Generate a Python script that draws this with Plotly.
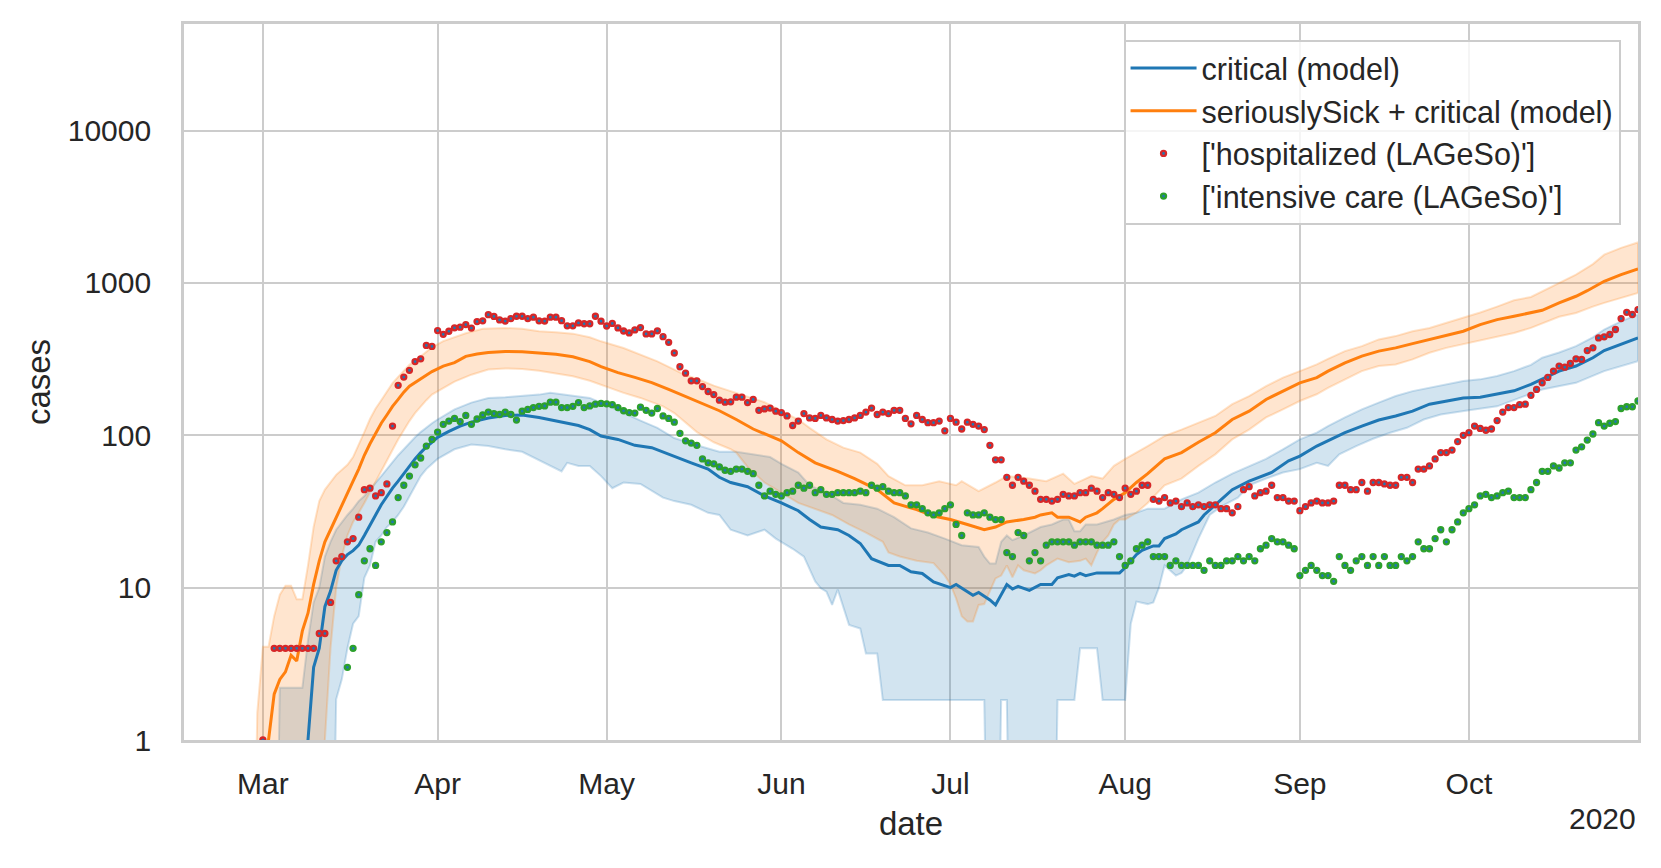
import pandas as pd
import plotly.graph_objects as go

# LAGeSo data, one value per day (None = no point)
hosp_mar = [1, None, 4, 4, 4, 4, 4, 4, 4, 4, 5, 5, 8, 15, 16, 20, 21, 29,
            44, 45, 40, 42, 48, 115, 213, 241, 267, 305, 318, 389, 383]
hosp_apr = [487, 460, 482, 508, 513, 533, 506, 558, 564, 619, 603, 572, 562, 584, 605,
            605, 584, 596, 564, 562, 596, 596, 566, 523, 523, 547, 540, 540, 605, 561]
hosp_may = [522, 543, 507, 484, 470, 492, 510, 463, 463, 485, 444, 408, 347, 282, 256, 228,
            228, 209, 194, 185, 170, 165, 166, 178, 178, 164, 172, 146, 149, 151, 144]
hosp_jun = [141, 134, 116, 124, 139, 130, 129, 135, 130, 127, 124, 125, 127, 130, 135,
            142, 151, 137, 142, 139, 146, 146, 129, 119, 135, 127, 121, 121, 124, 107]
hosp_jul = [129, 122, 110, 122, 118, 115, 109, 86, 69, 69, 53, 47, 53, 50, 47, 43,
            38, 38, 37, 38, 41, 40, 40, 42, 42, 45, 43, 39, 42, 41, 39]
hosp_aug = [45, 41, 43, 47, 47, 38, 37, 39, 36, 37, 34, 36, 34, 35, 34, 35,
            35, 33, 33, 31, 34, 44, 46, 40, 42, 43, 47, 39, 39, 37, 37]
hosp_sep = [32, 34, 36, 37, 36, 36, 37, 47, 47, 44, 44, 49, 43, 49, 49,
            48, 47, 47, 53, 53, 49, 60, 60, 63, 70, 77, 77, 80, 91, 100]
hosp_oct = [104, 115, 111, 108, 110, 125, 142, 152, 152, 159, 160, 183, 200, 221, 240, 264,
            285, 280, 296, 318, 315, 360, 375, 436, 443, 459, 495, 584, 642, 621, 669]

icu_mar = [3, 4, 9, 15, 18, 14, 20, 23, 27, 39, 47, 54, 64, 71, 85, 94]  # from Mar 16
icu_apr = [105, 118, 124, 129, 123, 135, 118, 128, 136, 142, 139, 137, 142, 137, 126,
           144, 148, 152, 155, 156, 165, 165, 152, 152, 155, 164, 152, 156, 160, 162]
icu_may = [161, 159, 152, 145, 141, 140, 153, 146, 140, 150, 134, 129, 122, 103, 92, 89,
           86, 70, 66, 65, 62, 59, 58, 60, 60, 58, 56, 47, 40, 43, 41]
icu_jun = [40, 42, 43, 47, 45, 47, 42, 44, 41, 41, 42, 42, 42, 42, 43,
           42, 47, 45, 46, 43, 42, 42, 40, 35, 35, 33, 31, 30, 31, 33]
icu_jul = [35, 26, 22, 31, 30, 30, 31, 29, 28, 28, 17, 16, 23, 22, 15, 17,
           15, 19, 20, 20, 20, 20, 19, 20, 20, 20, 19, 19, 19, 20, 16]
icu_aug = [14, 15, 18, 19, 20, 16, 16, 16, 14, 15, 14, 14, 14, 14, 13, 15,
           14, 14, 15, 15, 16, 15, 16, 15, 18, 19, 21, 20, 20, 19, 18]
icu_sep = [12, 13, 14, 13, 12, 12, 11, 16, 14, 13, 15, 16, 14, 16, 14,
           16, 14, 14, 16, 15, 16, 20, 18, 18, 21, 24, 20, 24, 27, 31]
icu_oct = [33, 35, 40, 41, 39, 40, 42, 43, 39, 39, 39, 44, 49, 58, 58, 63,
           61, 66, 66, 80, 84, 93, 102, 121, 115, 120, 123, 150, 154, 154, 168]

# model curves (date, value); 0.01 means zero, i.e. below the axis
critical = [("03-09", 1.0), ("03-10", 3.0), ("03-11", 4.0), ("03-12", 7.5), ("03-13", 9.5),
            ("03-14", 13), ("03-15", 15), ("03-16", 16.5), ("03-17", 17.5), ("03-18", 19),
            ("03-19", 22), ("03-20", 26), ("03-21", 30), ("03-22", 35), ("03-23", 40),
            ("03-24", 45), ("03-25", 50), ("03-26", 56), ("03-27", 63), ("03-28", 70),
            ("03-29", 77), ("03-30", 84), ("03-31", 90), ("04-01", 97), ("04-03", 106),
            ("04-05", 115), ("04-07", 122), ("04-10", 130), ("04-13", 135), ("04-16", 136),
            ("04-19", 131), ("04-23", 122), ("04-26", 116), ("04-28", 109), ("04-30", 99),
            ("05-03", 94), ("05-06", 86), ("05-09", 83), ("05-12", 75), ("05-14", 70),
            ("05-16", 66), ("05-19", 60), ("05-21", 53), ("05-23", 49), ("05-26", 46),
            ("05-29", 40), ("06-01", 36), ("06-04", 32), ("06-06", 28), ("06-08", 25),
            ("06-11", 24), ("06-13", 22), ("06-15", 19.5), ("06-17", 15.5), ("06-20", 14),
            ("06-22", 14), ("06-24", 12.7), ("06-26", 12.4), ("06-28", 10.9), ("07-01", 10),
            ("07-02", 10.5), ("07-05", 8.9), ("07-06", 9.3), ("07-08", 8.3), ("07-09", 7.7),
            ("07-11", 10.5), ("07-12", 9.8), ("07-13", 10.2), ("07-15", 9.6), ("07-17", 10.5),
            ("07-19", 10.5), ("07-20", 11.6), ("07-22", 12.2), ("07-23", 11.9), ("07-24", 12.4),
            ("07-25", 12), ("07-27", 12.5), ("07-31", 12.5), ("08-01", 13.5), ("08-03", 16.5),
            ("08-04", 17.6), ("08-06", 18.8), ("08-07", 18.8), ("08-08", 21), ("08-10", 22.5),
            ("08-11", 24), ("08-14", 27), ("08-15", 30), ("08-17", 35), ("08-20", 44),
            ("08-23", 50), ("08-27", 57), ("08-30", 68), ("09-01", 73), ("09-04", 85),
            ("09-06", 92), ("09-09", 104), ("09-12", 115), ("09-15", 126), ("09-18", 134),
            ("09-21", 144), ("09-24", 160), ("09-27", 168), ("09-30", 176), ("10-03", 178),
            ("10-06", 186), ("10-09", 196), ("10-12", 216), ("10-14", 235), ("10-17", 264),
            ("10-20", 285), ("10-23", 323), ("10-25", 360), ("10-28", 395), ("10-31", 436)]

critical_hi = [("03-03", 0.01), ("03-04", 2.2), ("03-08", 2.2), ("03-09", 4.5), ("03-10", 8),
               ("03-11", 10), ("03-12", 16), ("03-13", 20), ("03-14", 24), ("03-15", 27),
               ("03-16", 30), ("03-17", 33), ("03-18", 37), ("03-19", 40), ("03-20", 44),
               ("03-21", 49), ("03-22", 54), ("03-23", 60), ("03-24", 67), ("03-25", 74),
               ("03-26", 81), ("03-27", 89), ("03-28", 97), ("03-29", 105), ("03-30", 113),
               ("03-31", 120), ("04-01", 127), ("04-04", 148), ("04-07", 164), ("04-10", 176),
               ("04-13", 178), ("04-16", 182), ("04-19", 185), ("04-21", 190), ("04-25", 182),
               ("04-28", 176), ("05-01", 158), ("05-04", 140), ("05-07", 125), ("05-10", 112),
               ("05-13", 96), ("05-17", 86), ("05-21", 78), ("05-24", 78), ("05-27", 75),
               ("05-30", 72), ("06-01", 65), ("06-04", 57), ("06-06", 47), ("06-10", 40),
               ("06-12", 36), ("06-15", 35), ("06-18", 33), ("06-21", 29), ("06-24", 24.5),
               ("06-27", 23), ("06-30", 21), ("07-03", 19), ("07-06", 18.5), ("07-07", 16),
               ("07-08", 14.4), ("07-09", 14.4), ("07-10", 20), ("07-11", 22), ("07-12", 20.5),
               ("07-14", 22), ("07-17", 25), ("07-19", 26), ("07-21", 28), ("07-22", 28),
               ("07-23", 23.5), ("07-24", 23.5), ("07-25", 26), ("07-27", 26), ("07-30", 28),
               ("08-01", 30), ("08-03", 31), ("08-05", 33), ("08-08", 33), ("08-11", 38),
               ("08-14", 42), ("08-17", 49), ("08-20", 56), ("08-23", 63), ("08-26", 70),
               ("08-29", 81), ("09-01", 94), ("09-04", 104), ("09-06", 115), ("09-09", 131),
               ("09-12", 148), ("09-15", 164), ("09-18", 181), ("09-21", 195), ("09-24", 205),
               ("09-27", 216), ("09-30", 227), ("10-03", 233), ("10-06", 245), ("10-09", 264),
               ("10-12", 290), ("10-14", 323), ("10-17", 350), ("10-20", 385), ("10-23", 440),
               ("10-25", 495), ("10-28", 560), ("10-31", 621)]

critical_lo = [("03-03", 0.01), ("03-13", 0.01), ("03-14", 1.85), ("03-15", 2.5), ("03-16", 4),
               ("03-17", 5.8), ("03-18", 6.5), ("03-19", 11.6), ("03-20", 14), ("03-21", 20),
               ("03-22", 22), ("03-23", 25), ("03-24", 27), ("03-25", 30), ("03-26", 34),
               ("03-27", 40), ("03-28", 46), ("03-29", 54), ("03-30", 60), ("03-31", 65),
               ("04-01", 70), ("04-04", 81), ("04-07", 87), ("04-10", 85), ("04-13", 81),
               ("04-16", 78), ("04-19", 69), ("04-23", 58), ("04-24", 66), ("04-26", 63),
               ("04-28", 63), ("04-30", 54), ("05-02", 45), ("05-04", 49), ("05-07", 48),
               ("05-09", 43), ("05-11", 39), ("05-13", 37), ("05-16", 35), ("05-19", 31),
               ("05-21", 30), ("05-23", 24), ("05-26", 22), ("05-29", 24), ("05-31", 21),
               ("06-03", 18), ("06-05", 16), ("06-07", 11), ("06-08", 9.9), ("06-09", 9.4),
               ("06-10", 7.7), ("06-11", 9.7), ("06-13", 5.7), ("06-15", 5.4), ("06-16", 3.7),
               ("06-18", 3.7), ("06-19", 1.83), ("07-07", 1.83), ("07-08", 0.01), ("07-09", 0.01),
               ("07-10", 1.83), ("07-11", 1.83), ("07-12", 0.01), ("07-19", 0.01), ("07-20", 1.83),
               ("07-23", 1.83), ("07-24", 4.0), ("07-27", 4.0), ("07-28", 1.83), ("08-01", 1.83),
               ("08-02", 5.8), ("08-03", 8.1), ("08-05", 7.8), ("08-06", 8), ("08-07", 10),
               ("08-08", 14), ("08-09", 13), ("08-10", 12), ("08-11", 12.5), ("08-12", 14),
               ("08-14", 21), ("08-16", 30), ("08-18", 34), ("08-21", 39), ("08-23", 47),
               ("08-26", 52), ("08-29", 57), ("09-01", 60), ("09-04", 66), ("09-06", 63),
               ("09-08", 75), ("09-11", 85), ("09-14", 95), ("09-17", 104), ("09-20", 112),
               ("09-23", 127), ("09-26", 137), ("09-29", 142), ("10-01", 146), ("10-06", 155),
               ("10-11", 181), ("10-14", 200), ("10-20", 221), ("10-25", 264), ("10-31", 307)]

sick = [("03-01", 0.3), ("03-02", 1.0), ("03-03", 2.0), ("03-04", 2.5), ("03-05", 2.8),
        ("03-06", 3.6), ("03-07", 3.3), ("03-08", 5.2), ("03-09", 6.8), ("03-10", 10.5),
        ("03-11", 15), ("03-12", 20), ("03-13", 24), ("03-14", 29), ("03-15", 35),
        ("03-16", 42), ("03-17", 50), ("03-18", 60), ("03-19", 74), ("03-20", 88),
        ("03-21", 104), ("03-22", 120), ("03-23", 136), ("03-24", 155), ("03-25", 172),
        ("03-26", 192), ("03-27", 210), ("03-28", 222), ("03-29", 236), ("03-30", 250),
        ("03-31", 262), ("04-02", 285), ("04-04", 300), ("04-06", 330), ("04-08", 342),
        ("04-10", 350), ("04-13", 355), ("04-16", 354), ("04-19", 347), ("04-22", 340),
        ("04-25", 328), ("04-28", 305), ("04-30", 282), ("05-03", 258), ("05-06", 240),
        ("05-09", 222), ("05-12", 200), ("05-15", 180), ("05-18", 162), ("05-21", 145),
        ("05-24", 127), ("05-27", 110), ("06-01", 92), ("06-04", 77), ("06-07", 66),
        ("06-11", 58), ("06-14", 52), ("06-18", 44), ("06-21", 36), ("06-25", 32.5),
        ("06-28", 29.5), ("07-01", 28), ("07-04", 26), ("07-07", 24), ("07-09", 25),
        ("07-11", 27), ("07-14", 28), ("07-16", 29), ("07-17", 30), ("07-19", 31),
        ("07-20", 29), ("07-22", 29), ("07-24", 27), ("07-25", 29), ("07-27", 31),
        ("07-28", 33), ("07-30", 38), ("08-01", 42), ("08-03", 49), ("08-05", 56),
        ("08-08", 70), ("08-11", 77), ("08-14", 90), ("08-17", 104), ("08-20", 127),
        ("08-23", 144), ("08-26", 172), ("08-30", 205), ("09-01", 221), ("09-04", 239),
        ("09-06", 264), ("09-09", 299), ("09-12", 331), ("09-15", 357), ("09-18", 375),
        ("09-21", 400), ("09-24", 426), ("09-27", 452), ("09-30", 482), ("10-03", 533),
        ("10-06", 575), ("10-09", 605), ("10-12", 636), ("10-14", 662), ("10-17", 740),
        ("10-20", 818), ("10-22", 890), ("10-25", 1026), ("10-28", 1135), ("10-31", 1236)]

sick_hi = [("02-28", 0.01), ("02-29", 1.5), ("03-01", 4.1), ("03-02", 4.1), ("03-03", 6.5),
           ("03-04", 9), ("03-05", 10.3), ("03-06", 10.3), ("03-07", 8.4), ("03-08", 8.4),
           ("03-09", 14), ("03-10", 25), ("03-11", 37), ("03-12", 44), ("03-14", 55),
           ("03-16", 64), ("03-17", 72), ("03-18", 86), ("03-19", 105), ("03-20", 128),
           ("03-21", 150), ("03-22", 170), ("03-23", 195), ("03-24", 220), ("03-25", 242),
           ("03-26", 266), ("03-27", 290), ("03-28", 308), ("03-29", 330), ("03-30", 350),
           ("03-31", 378), ("04-02", 415), ("04-04", 440), ("04-06", 468), ("04-09", 500),
           ("04-13", 507), ("04-16", 500), ("04-19", 482), ("04-22", 475), ("04-25", 465),
           ("04-28", 440), ("04-30", 414), ("05-04", 374), ("05-07", 339), ("05-10", 306),
           ("05-13", 270), ("05-15", 248), ("05-17", 235), ("05-20", 212), ("05-23", 195),
           ("05-26", 180), ("05-29", 165), ("06-01", 144), ("06-04", 127), ("06-06", 112),
           ("06-09", 94), ("06-12", 83), ("06-15", 77), ("06-18", 65), ("06-20", 54),
           ("06-23", 47), ("06-26", 47), ("06-29", 50), ("07-02", 47), ("07-03", 50),
           ("07-06", 43), ("07-09", 49), ("07-11", 54), ("07-15", 52), ("07-18", 50),
           ("07-21", 56), ("07-23", 48), ("07-26", 54), ("07-28", 52), ("07-30", 63),
           ("08-01", 70), ("08-05", 85), ("08-08", 99), ("08-11", 109), ("08-14", 121),
           ("08-17", 134), ("08-20", 160), ("08-23", 181), ("08-26", 210), ("08-29", 239),
           ("09-01", 264), ("09-04", 292), ("09-06", 318), ("09-09", 357), ("09-12", 385),
           ("09-15", 426), ("09-18", 448), ("09-21", 482), ("09-24", 507), ("09-27", 547),
           ("09-30", 590), ("10-03", 640), ("10-06", 700), ("10-09", 770), ("10-12", 810),
           ("10-14", 881), ("10-17", 1000), ("10-20", 1135), ("10-23", 1330), ("10-25", 1535),
           ("10-28", 1700), ("10-31", 1846)]

sick_lo = [("02-28", 0.01), ("03-11", 0.01), ("03-12", 1.0), ("03-13", 4), ("03-14", 10),
           ("03-15", 16), ("03-16", 22), ("03-17", 27), ("03-18", 31), ("03-19", 36),
           ("03-20", 42), ("03-21", 50), ("03-22", 58), ("03-23", 68), ("03-24", 80),
           ("03-25", 94), ("03-26", 108), ("03-27", 124), ("03-28", 140), ("03-29", 155),
           ("03-30", 170), ("03-31", 185), ("04-01", 195), ("04-04", 225), ("04-07", 250),
           ("04-10", 270), ("04-13", 275), ("04-16", 272), ("04-19", 265), ("04-22", 255),
           ("04-25", 244), ("04-28", 228), ("04-30", 215), ("05-04", 190), ("05-07", 176),
           ("05-11", 155), ("05-13", 140), ("05-15", 122), ("05-17", 105), ("05-20", 90),
           ("05-23", 81), ("05-24", 77), ("05-26", 62), ("05-29", 49), ("06-01", 42),
           ("06-04", 36), ("06-07", 33), ("06-10", 30), ("06-13", 26), ("06-16", 23),
           ("06-19", 20), ("06-20", 17), ("06-22", 16), ("06-25", 15), ("06-28", 14.5),
           ("06-30", 12), ("07-01", 10.5), ("07-02", 8.5), ("07-03", 6.5), ("07-04", 6.0),
           ("07-05", 6.0), ("07-06", 7.7), ("07-07", 7.8), ("07-08", 9.5), ("07-09", 11.5),
           ("07-10", 12), ("07-11", 14), ("07-12", 11.7), ("07-13", 14), ("07-14", 13),
           ("07-16", 12.4), ("07-17", 13), ("07-18", 14), ("07-20", 15.5), ("07-22", 14.7),
           ("07-24", 15), ("07-25", 15.5), ("07-26", 14), ("07-27", 17), ("07-28", 20),
           ("07-29", 22), ("07-30", 26), ("07-31", 28), ("08-01", 28), ("08-03", 31),
           ("08-05", 36), ("08-08", 47), ("08-11", 52), ("08-14", 63), ("08-17", 75),
           ("08-20", 94), ("08-23", 109), ("08-26", 131), ("08-29", 148), ("09-01", 168),
           ("09-04", 186), ("09-06", 205), ("09-09", 233), ("09-12", 264), ("09-15", 285),
           ("09-18", 292), ("09-21", 315), ("09-24", 348), ("09-27", 375), ("09-30", 400),
           ("10-03", 420), ("10-06", 445), ("10-09", 470), ("10-12", 507), ("10-14", 545),
           ("10-17", 600), ("10-20", 636), ("10-23", 700), ("10-25", 740), ("10-28", 800),
           ("10-31", 860)]

month_ticks = ["2020-03-01", "2020-04-01", "2020-05-01", "2020-06-01",
               "2020-07-01", "2020-08-01", "2020-09-01", "2020-10-01"]
month_labels = ["Mar", "Apr", "May", "Jun", "Jul", "Aug", "Sep", "Oct"]
y_ticks = [1, 10, 100, 1000, 10000]

BLUE = "#1f77b4"
ORANGE = "#ff7f0e"
RED = "#d62728"
GREEN = "#2ca02c"
FONT = "Arial, Liberation Sans, sans-serif"


def unzip(pairs):
    return ["2020-" + d for d, _ in pairs], [v for _, v in pairs]


def daily(months):
    xs, ys = [], []
    for start, vals in months:
        xs += list(pd.date_range(start, periods=len(vals), freq="D"))
        ys += vals
    return xs, ys


hosp_x, hosp_y = daily([("2020-03-01", hosp_mar), ("2020-04-01", hosp_apr),
                        ("2020-05-01", hosp_may), ("2020-06-01", hosp_jun),
                        ("2020-07-01", hosp_jul), ("2020-08-01", hosp_aug),
                        ("2020-09-01", hosp_sep), ("2020-10-01", hosp_oct)])
icu_x, icu_y = daily([("2020-03-16", icu_mar), ("2020-04-01", icu_apr),
                      ("2020-05-01", icu_may), ("2020-06-01", icu_jun),
                      ("2020-07-01", icu_jul), ("2020-08-01", icu_aug),
                      ("2020-09-01", icu_sep), ("2020-10-01", icu_oct)])

fig = go.Figure()


def band(hi, lo, rgb):
    hx, hy = unzip(hi)
    lx, ly = unzip(lo)
    fig.add_trace(go.Scatter(
        x=hx + lx[::-1], y=hy + ly[::-1], mode="lines", fill="toself",
        fillcolor="rgba(%s,0.2)" % rgb, line=dict(color="rgba(%s,0.22)" % rgb, width=2),
        showlegend=False, hoverinfo="skip"))


band(critical_hi, critical_lo, "31,119,180")
band(sick_hi, sick_lo, "255,127,14")

cx, cy = unzip(critical)
fig.add_trace(go.Scatter(x=cx, y=cy, mode="lines", name="critical (model)",
                         line=dict(color=BLUE, width=3)))
sx, sy = unzip(sick)
fig.add_trace(go.Scatter(x=sx, y=sy, mode="lines", name="seriouslySick + critical (model)",
                         line=dict(color=ORANGE, width=3)))

fig.add_trace(go.Scatter(x=hosp_x, y=hosp_y, mode="markers",
                         name="['hospitalized (LAGeSo)']",
                         marker=dict(size=5, color=BLUE, line=dict(color=RED, width=2.3))))
fig.add_trace(go.Scatter(x=icu_x, y=icu_y, mode="markers",
                         name="['intensive care (LAGeSo)']",
                         marker=dict(size=5, color=BLUE, line=dict(color=GREEN, width=2.3))))

fig.update_layout(
    width=1661, height=868,
    margin=dict(l=184, r=23, t=24, b=128),
    paper_bgcolor="white", plot_bgcolor="white",
    font=dict(family=FONT, size=30, color="#262626"),
    showlegend=True,
    legend=dict(x=0.988, y=0.978, xanchor="right", yanchor="top",
                bgcolor="rgba(255,255,255,0.8)", bordercolor="#cccccc", borderwidth=2,
                font=dict(size=30.5, color="#262626"), tracegroupgap=0, itemwidth=66),
    xaxis=dict(type="date", range=["2020-02-16", "2020-10-31"],
               tickvals=month_ticks, ticktext=month_labels,
               showgrid=True, gridcolor="#cccccc", gridwidth=2,
               showline=True, linecolor="#cccccc", linewidth=2.6, mirror=True,
               ticks="", ticklabelstandoff=15, zeroline=False,
               title=dict(text="date", font=dict(size=33), standoff=14)),
    yaxis=dict(type="log", range=[0, 4.70],
               tickvals=y_ticks, ticktext=[str(v) for v in y_ticks],
               showgrid=True, gridcolor="#cccccc", gridwidth=2,
               showline=True, linecolor="#cccccc", linewidth=2.6, mirror=True,
               ticks="", ticklabelstandoff=24, zeroline=False,
               title=dict(text="cases", font=dict(size=33), standoff=8)),
    annotations=[dict(text="2020", xref="paper", yref="paper", x=1, y=-0.11,
                      xanchor="right", yanchor="middle", showarrow=False,
                      font=dict(size=30, color="#262626"))],
)

fig.write_html("out.html", config={"displayModeBar": False},
               post_script="document.body.style.margin='0px';")
